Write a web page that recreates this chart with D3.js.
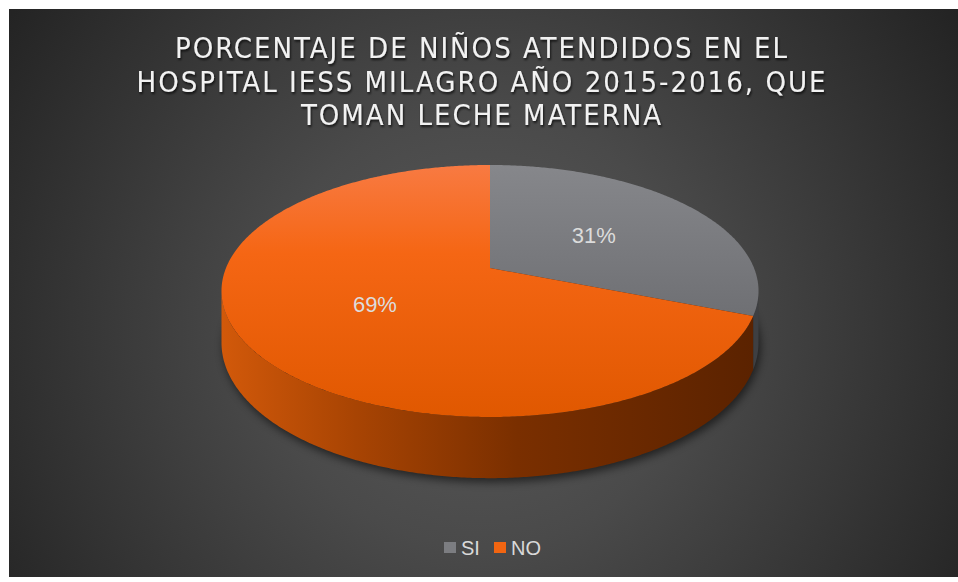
<!DOCTYPE html>
<html>
<head>
<meta charset="utf-8">
<script src="https://cdn.jsdelivr.net/npm/d3@7"></script>
<style>
  body { margin: 0; background: #fff; }
  svg { display: block; }
</style>
</head>
<body>
<div id="chart"></div>
<script>
// Data
const categories = ["SI", "NO"];
const values = [31, 69];
const titleLines = [
  "PORCENTAJE DE NIÑOS ATENDIDOS EN EL",
  "HOSPITAL IESS MILAGRO AÑO 2015-2016, QUE",
  "TOMAN LECHE MATERNA"
];

const W = 958, H = 582;
const svg = d3.select("#chart").append("svg")
  .attr("width", W)
  .attr("height", H);

const defs = svg.append("defs");

// background gradient
const bg = defs.append("radialGradient").attr("id", "bg")
  .attr("gradientUnits", "userSpaceOnUse")
  .attr("cx", 480).attr("cy", 330).attr("r", 620);
bg.append("stop").attr("offset", 0).attr("stop-color", "#5a5a5a");
bg.append("stop").attr("offset", 0.35).attr("stop-color", "#4a4a4a");
bg.append("stop").attr("offset", 1).attr("stop-color", "#1e1e1e");

svg.append("rect")
  .attr("x", 9).attr("y", 9)
  .attr("width", 949).attr("height", 568)
  .attr("fill", "url(#bg)");

// title shadow
const ts = defs.append("filter").attr("id", "tshadow")
  .attr("x", "-10%").attr("y", "-50%").attr("width", "120%").attr("height", "200%");
ts.append("feDropShadow").attr("dx", 1).attr("dy", 2).attr("stdDeviation", 1.2)
  .attr("flood-color", "#000").attr("flood-opacity", 0.7);

svg.append("g")
  .attr("filter", "url(#tshadow)")
  .selectAll("text")
  .data(titleLines)
  .enter().append("text")
    .attr("x", 482)
    .attr("y", (d, i) => 58 + i * 33.5)
    .attr("text-anchor", "middle")
    .attr("fill", "#f2f2f2")
    .style("font-family", "'Liberation Sans Narrow', 'DejaVu Sans Condensed', sans-serif")
    .style("font-size", "29px")
    .style("font-weight", 500)
    .style("letter-spacing", "2px")
    .text(d => d);

// perspective pie geometry
const cx = 490, cy = 268;
const A = 264, B = 121.8, k = 0.1825, depth = 50;

function proj(theta, r, drop) {
  const X = r * Math.sin(theta), Z = r * Math.cos(theta);
  const w = 1 + k * Z;
  return [cx + A * X / w, cy - B * Z / w + (drop ? depth / w : 0)];
}

const color = d3.scaleOrdinal()
  .domain(categories)
  .range(["url(#gTop)", "url(#oTop)"]);
const legendColor = d3.scaleOrdinal()
  .domain(categories)
  .range(["#7c7d81", "#f26511"]);
const sideColor = d3.scaleOrdinal()
  .domain(categories)
  .range(["#3e3f42", "url(#oSide)"]);

const oTop = defs.append("linearGradient").attr("id", "oTop")
  .attr("gradientUnits", "userSpaceOnUse").attr("x1", 0).attr("y1", 165).attr("x2", 0).attr("y2", 418);
oTop.append("stop").attr("offset", 0).attr("stop-color", "#f87a42");
oTop.append("stop").attr("offset", 0.35).attr("stop-color", "#f56614");
oTop.append("stop").attr("offset", 1).attr("stop-color", "#e05800");

const gTop = defs.append("linearGradient").attr("id", "gTop")
  .attr("gradientUnits", "userSpaceOnUse").attr("x1", 0).attr("y1", 165).attr("x2", 0).attr("y2", 320);
gTop.append("stop").attr("offset", 0).attr("stop-color", "#86878b");
gTop.append("stop").attr("offset", 1).attr("stop-color", "#6e6f73");

const oSide = defs.append("linearGradient").attr("id", "oSide")
  .attr("gradientUnits", "userSpaceOnUse").attr("x1", 221).attr("y1", 0).attr("x2", 759).attr("y2", 0);
oSide.append("stop").attr("offset", 0).attr("stop-color", "#d2590a");
oSide.append("stop").attr("offset", 0.25).attr("stop-color", "#a84403");
oSide.append("stop").attr("offset", 0.55).attr("stop-color", "#7a2f00");
oSide.append("stop").attr("offset", 1).attr("stop-color", "#5a2200");

const blur = defs.append("filter").attr("id", "blur")
  .attr("x", "-20%").attr("y", "-20%").attr("width", "140%").attr("height", "140%");
blur.append("feGaussianBlur").attr("stdDeviation", 4);

const pie = d3.pie().sort(null).value(d => d.value);
const arcs = pie(categories.map((c, i) => ({ name: c, value: values[i] })));

const line = d3.line();
const step = Math.PI / 360;
const sample = (a0, a1) => {
  const n = Math.max(2, Math.ceil((a1 - a0) / step));
  return d3.range(n + 1).map(i => a0 + (a1 - a0) * i / n);
};

// shadow under the pie
svg.append("path")
  .attr("d", line(sample(0, 2 * Math.PI).map(t => {
    const p = proj(t, 1.0, true);
    return [p[0] + 2, p[1] + 4];
  })) + "Z")
  .attr("fill", "#000")
  .attr("opacity", 0.55)
  .attr("filter", "url(#blur)");

// sides (front half only)
const tL = Math.acos(-k), tR = 2 * Math.PI - tL;
const sides = svg.append("g");
arcs.forEach(a => {
  const s = Math.max(a.startAngle, tL), e = Math.min(a.endAngle, tR);
  if (e <= s) return;
  const ts = sample(s, e);
  const pts = ts.map(t => proj(t, 1, false))
    .concat(ts.slice().reverse().map(t => proj(t, 1, true)));
  sides.append("path")
    .attr("d", line(pts) + "Z")
    .attr("fill", sideColor(a.data.name));
});

// tops
svg.append("g").selectAll("path")
  .data(arcs)
  .enter().append("path")
    .attr("d", a => line([[cx, cy]].concat(sample(a.startAngle, a.endAngle).map(t => proj(t, 1, false)))) + "Z")
    .attr("fill", a => color(a.data.name));

// labels
const total = d3.sum(values);
svg.append("g").selectAll("text")
  .data(arcs)
  .enter().append("text")
    .attr("x", a => proj((a.startAngle + a.endAngle) / 2, 0.5, false)[0])
    .attr("y", a => proj((a.startAngle + a.endAngle) / 2, 0.5, false)[1])
    .attr("dy", "0.35em")
    .attr("text-anchor", "middle")
    .attr("fill", "#dcdcdc")
    .style("font-family", "'Liberation Sans', Arial, sans-serif")
    .style("font-size", "22px")
    .text(a => Math.round(a.data.value / total * 100) + "%");

// legend
const legend = svg.append("g")
  .selectAll("g")
  .data(categories)
  .enter().append("g")
    .attr("transform", (d, i) => `translate(${444 + i * 50},542)`);

legend.append("rect")
  .attr("width", 12).attr("height", 11)
  .attr("fill", d => legendColor(d));

legend.append("text")
  .attr("x", 17)
  .attr("y", 6)
  .attr("dy", "0.35em")
  .attr("fill", "#d9d9d9")
  .style("font-family", "'Liberation Sans', Arial, sans-serif")
  .style("font-size", "20px")
  .text(d => d);
</script>
</body>
</html>
